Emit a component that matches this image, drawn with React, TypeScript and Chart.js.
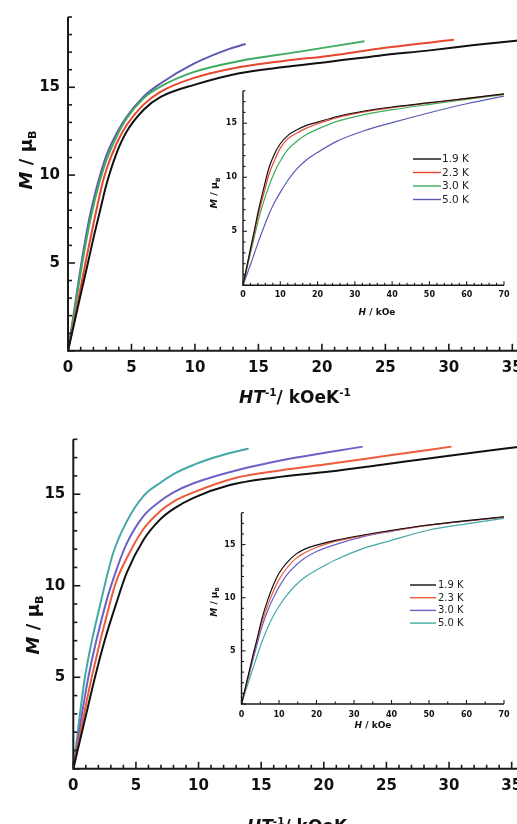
import React, { useEffect, useRef } from 'react';
import { Chart, registerables } from 'chart.js';
Chart.register(...registerables);

const FONT = '"DejaVu Sans", "Liberation Sans", Arial, sans-serif';

// ---------------- data ----------------
const TEMPS = ['1.9 K', '2.3 K', '3.0 K', '5.0 K'];
const TOP_COLORS = ['#111111', '#e8462e', '#3fab5e', '#5b5bb5'];
const BOT_COLORS = ['#111111', '#ee5a3c', '#6c62c6', '#44a9a6'];

// Top main panel: M vs H/T
const T19_X = [0, 0.5, 1, 1.6, 2, 2.5, 3, 3.8, 4.6, 6, 7.3, 10, 13.5, 17, 20.6, 24.5, 28.5, 32, 35.5];
const T19_M = [0, 1.6, 3.2, 5.1, 6.4, 7.9, 9.4, 11.2, 12.45, 13.75, 14.45, 15.15, 15.8, 16.15, 16.45, 16.8, 17.1, 17.4, 17.66];
const T23_X = [0, 0.5, 1, 1.4, 2, 2.7, 3.04, 3.83, 4.62, 5.93, 7.25, 9.88, 13.55, 17, 20.65, 25, 30.4];
const T23_M = [0, 1.75, 3.6, 5.1, 7.2, 9.5, 10.35, 11.8, 12.85, 14.0, 14.73, 15.52, 16.15, 16.5, 16.8, 17.25, 17.7];
const T30_X = [0, 0.5, 1.15, 1.8, 2.5, 3.04, 3.83, 4.62, 5.93, 7.25, 9.88, 13.55, 18, 23.35];
const T30_M = [0, 2.2, 5.1, 7.6, 9.65, 10.88, 12.2, 13.23, 14.36, 15.02, 15.86, 16.5, 17.0, 17.62];
const T50_X = [0, 0.5, 1.08, 1.7, 2.39, 3.04, 3.83, 4.62, 5.93, 7.25, 9.88, 12.77, 14.0];
const T50_M = [0, 2.35, 5.1, 7.6, 9.65, 11.16, 12.38, 13.32, 14.45, 15.2, 16.33, 17.2, 17.46];

// Bottom main panel: M vs H/T
const B19_X = [0, 1, 1.73, 2.5, 3.46, 4.26, 5.6, 6.9, 8, 9.6, 12.5, 16, 20.5, 24.5, 28.5, 32, 35.5];
const B19_M = [0, 2.9, 5.0, 7.0, 9.1, 10.7, 12.5, 13.6, 14.2, 14.8, 15.5, 15.9, 16.24, 16.6, 16.97, 17.28, 17.58];
const B23_X = [0, 1.47, 2.98, 3.46, 4.26, 5.6, 6.9, 8, 9.6, 13, 16.5, 20.5, 25, 30.2];
const B23_M = [0, 5.0, 9.2, 10.3, 11.5, 13.1, 14.05, 14.6, 15.1, 15.9, 16.3, 16.66, 17.1, 17.6];
const B30_X = [0, 1.2, 2.66, 3.46, 4.26, 5.6, 6.9, 8, 9.6, 13, 17.8, 23.1];
const B30_M = [0, 5.0, 9.2, 10.9, 12.3, 13.8, 14.6, 15.1, 15.6, 16.3, 17.0, 17.6];
const B50_X = [0, 0.93, 2.26, 3.19, 4.26, 5.6, 6.9, 8, 9.6, 11, 12.5, 14.0];
const B50_M = [0, 5.0, 9.3, 11.8, 13.5, 14.9, 15.6, 16.1, 16.6, 16.95, 17.25, 17.5];

// Insets: M vs H (kOe)
const INSET_H = [0, 1, 2, 3, 4, 5.5, 7, 8.5, 10, 12, 14.5, 17, 20, 25, 32.5, 40, 50, 60, 70];
const TI19 = [0, 1.7, 3.4, 5.0, 6.7, 8.9, 10.9, 12.2, 13.1, 13.85, 14.4, 14.8, 15.1, 15.6, 16.13, 16.5, 16.9, 17.3, 17.72];
const TI23 = [0, 1.6, 3.2, 4.8, 6.4, 8.4, 10.3, 11.6, 12.7, 13.55, 14.1, 14.55, 14.95, 15.5, 16.05, 16.45, 16.87, 17.28, 17.7];
const TI30 = [0, 1.45, 2.95, 4.4, 5.9, 7.7, 9.2, 10.5, 11.5, 12.55, 13.35, 13.95, 14.45, 15.15, 15.8, 16.25, 16.74, 17.2, 17.65];
const TI50 = [0, 0.95, 1.9, 2.9, 3.9, 5.3, 6.6, 7.7, 8.6, 9.7, 10.8, 11.6, 12.3, 13.3, 14.3, 15.05, 15.97, 16.8, 17.5];
const BI19 = [0, 1.5, 3.0, 4.5, 5.9, 8.1, 9.8, 11.2, 12.3, 13.25, 14.1, 14.6, 14.95, 15.4, 15.9, 16.35, 16.84, 17.25, 17.62];
const BI23 = [0, 1.45, 2.9, 4.4, 5.8, 7.7, 9.3, 10.6, 11.7, 12.75, 13.7, 14.25, 14.75, 15.3, 15.85, 16.3, 16.8, 17.22, 17.6];
const BI30 = [0, 1.35, 2.7, 4.1, 5.4, 7.3, 8.8, 10.0, 11.0, 12.1, 13.05, 13.75, 14.35, 15.0, 15.75, 16.25, 16.85, 17.2, 17.58];
const BI50 = [0, 1.1, 2.2, 3.3, 4.35, 5.9, 7.2, 8.3, 9.2, 10.2, 11.2, 11.95, 12.6, 13.55, 14.64, 15.4, 16.37, 16.95, 17.47];

// axis title pieces
const MAIN_X_TITLE_TOP = [{ t: 'HT', i: true }, { t: '-1', sup: true }, { t: '/ kOeK' }, { t: '-1', sup: true }];
const MAIN_X_TITLE_BOT = [{ t: 'HT', i: true }, { t: '-1', sup: true }, { t: '/ kOeK' }];
const M_TITLE = [{ t: 'M', i: true }, { t: ' / \u03bc' }, { t: 'B', sub: true }];
const INSET_X_TITLE = [{ t: 'H', i: true }, { t: ' / kOe' }];

type Part = { t: string; i?: boolean; sup?: boolean; sub?: boolean };

function fontOf(p: Part, size: number) {
  const s = p.sup || p.sub ? size * 0.62 : size;
  return `${p.i ? 'italic ' : ''}bold ${s}px ${FONT}`;
}

function drawRich(ctx: CanvasRenderingContext2D, parts: Part[], cx: number, cy: number, size: number, rotate: boolean) {
  ctx.save();
  ctx.translate(cx, cy);
  if (rotate) ctx.rotate(-Math.PI / 2);
  let total = 0;
  const widths = parts.map((p) => {
    ctx.font = fontOf(p, size);
    const w = ctx.measureText(p.t).width;
    total += w;
    return w;
  });
  let x = -total / 2;
  const base = size * 0.365; // put cap-centre at 0
  ctx.fillStyle = '#111';
  ctx.textBaseline = 'alphabetic';
  ctx.textAlign = 'left';
  parts.forEach((p, k) => {
    ctx.font = fontOf(p, size);
    let y = base;
    if (p.sup) y -= size * 0.42;
    if (p.sub) y += size * 0.22;
    ctx.fillText(p.t, x, y);
    x += widths[k];
  });
  ctx.restore();
}

function decoPlugin(spec: any) {
  return {
    id: 'deco',
    afterDraw(chart: any) {
      const { ctx, chartArea: a, scales } = chart;
      const xs = scales.x;
      const ys = scales.y;
      ctx.save();
      ctx.strokeStyle = '#1a1a1a';
      ctx.lineWidth = spec.axisWidth;
      ctx.beginPath();
      ctx.moveTo(a.left, a.top);
      ctx.lineTo(a.left, a.bottom);
      ctx.lineTo(a.right, a.bottom);
      ctx.stroke();
      ctx.lineWidth = spec.tickWidth;
      const isMajor = (v: number, m: number) => Math.abs(v / m - Math.round(v / m)) < 1e-6;
      for (let k = 0; ; k++) {
        const v = xs.min + k * spec.xMinor;
        if (v > xs.max + 1e-9) break;
        const px = xs.getPixelForValue(v);
        const len = isMajor(v, spec.xMajor) ? spec.majorLen : spec.minorLen;
        ctx.beginPath();
        ctx.moveTo(px, a.bottom);
        ctx.lineTo(px, a.bottom - len);
        ctx.stroke();
      }
      for (let k = 0; ; k++) {
        const v = ys.min + k * spec.yMinor;
        if (v > ys.max + 1e-9) break;
        const py = ys.getPixelForValue(v);
        const len = isMajor(v, 5) ? spec.majorLen : spec.minorLen;
        ctx.beginPath();
        ctx.moveTo(a.left, py);
        ctx.lineTo(a.left + len, py);
        ctx.stroke();
      }
      // legend
      if (spec.legend) {
        const L = spec.legend;
        chart.data.datasets.forEach((ds: any, k: number) => {
          const y = L.y0 + k * L.dy;
          ctx.strokeStyle = ds.borderColor;
          ctx.lineWidth = 1.4;
          ctx.beginPath();
          ctx.moveTo(L.x1, y);
          ctx.lineTo(L.x2, y);
          ctx.stroke();
          ctx.fillStyle = '#222';
          ctx.font = `${L.size}px ${FONT}`;
          ctx.textBaseline = 'middle';
          ctx.textAlign = 'left';
          ctx.fillText(ds.label, L.tx, y + 0.5);
        });
      }
      drawRich(ctx, spec.xTitle.parts, spec.xTitle.x, spec.xTitle.y, spec.xTitle.size, false);
      drawRich(ctx, spec.yTitle.parts, spec.yTitle.x, spec.yTitle.y, spec.yTitle.size, true);
      ctx.restore();
    },
  };
}

function makeConfig(spec: any) {
  return {
    type: 'line',
    data: {
      datasets: spec.series.map((s: any) => ({
        label: s.label,
        data: s.x.map((x: number, k: number) => ({ x, y: s.y[k] })),
        borderColor: s.color,
        borderWidth: spec.lineWidth,
        pointRadius: 0,
        fill: false,
        cubicInterpolationMode: 'monotone',
      })),
    },
    options: {
      animation: false,
      responsive: false,
      events: [],
      layout: { padding: { top: spec.padTop, right: spec.padRight, left: 0, bottom: 0 } },
      plugins: { legend: { display: false }, tooltip: { enabled: false }, title: { display: false } },
      scales: {
        x: {
          type: 'linear',
          min: spec.xMin,
          max: spec.xMax,
          grid: { display: false, drawTicks: false },
          border: { display: false },
          ticks: {
            stepSize: spec.xMajor,
            includeBounds: false,
            autoSkip: false,
            maxRotation: 0,
            padding: spec.xPad,
            color: '#111',
            font: { family: FONT, size: spec.tickSize, weight: 'bold' },
          },
          afterFit: (s: any) => {
            s.height = spec.xHeight;
          },
        },
        y: {
          type: 'linear',
          min: 0,
          max: spec.yMax,
          grid: { display: false, drawTicks: false },
          border: { display: false },
          ticks: {
            stepSize: 5,
            includeBounds: false,
            padding: spec.yPad,
            color: '#111',
            font: { family: FONT, size: spec.tickSize, weight: 'bold' },
            callback: (v: number) => (v === 0 ? '' : String(v)),
          },
          afterFit: (s: any) => {
            s.width = spec.yWidth;
          },
        },
      },
    },
    plugins: [decoPlugin(spec)],
  };
}

function ChartCanvas({ spec }: { spec: any }) {
  const ref = useRef<HTMLCanvasElement | null>(null);
  useEffect(() => {
    if (!ref.current) return;
    const chart = new Chart(ref.current, makeConfig(spec) as any);
    return () => chart.destroy();
  }, [spec]);
  return (
    <canvas
      ref={ref}
      width={spec.w}
      height={spec.h}
      style={{ position: 'absolute', left: spec.left, top: spec.top, width: spec.w, height: spec.h }}
    />
  );
}

const series = (xs: number[][], ys: number[][], colors: string[]) =>
  TEMPS.map((label, k) => ({ label, x: xs[k], y: ys[k], color: colors[k] }));

const TOP_MAIN = {
  left: 0, top: 0, w: 560, h: 410,
  padTop: 13.3, padRight: 35, yWidth: 68, xHeight: 59.2,
  xMin: 0, xMax: 36, xMajor: 5, xMinor: 1, yMax: 19, yMinor: 1,
  tickSize: 15, xPad: 8, yPad: 8, lineWidth: 2,
  axisWidth: 2, tickWidth: 1.6, majorLen: 7, minorLen: 4,
  series: series([T19_X, T23_X, T30_X, T50_X], [T19_M, T23_M, T30_M, T50_M], TOP_COLORS),
  xTitle: { parts: MAIN_X_TITLE_TOP, x: 295, y: 397, size: 17 },
  yTitle: { parts: M_TITLE, x: 25, y: 160, size: 18 },
};

const BOT_MAIN = {
  left: 0, top: 410, w: 560, h: 430,
  padTop: 29.3, padRight: 35.8, yWidth: 73.3, xHeight: 71.2,
  xMin: 0, xMax: 36, xMajor: 5, xMinor: 1, yMax: 18, yMinor: 1,
  tickSize: 15, xPad: 8, yPad: 8, lineWidth: 2,
  axisWidth: 2, tickWidth: 1.6, majorLen: 7, minorLen: 4,
  series: series([B19_X, B23_X, B30_X, B50_X], [B19_M, B23_M, B30_M, B50_M], BOT_COLORS),
  xTitle: { parts: MAIN_X_TITLE_BOT, x: 297, y: 416, size: 17 },
  yTitle: { parts: M_TITLE, x: 32, y: 215, size: 18 },
};

const H5 = [INSET_H, INSET_H, INSET_H, INSET_H];

const TOP_INSET = {
  left: 195, top: 80, w: 322, h: 250,
  padTop: 9, padRight: 13, yWidth: 48, xHeight: 44.7,
  xMin: 0, xMax: 70, xMajor: 10, xMinor: 2, yMax: 18, yMinor: 1,
  tickSize: 8, xPad: 5, yPad: 6, lineWidth: 1.2,
  axisWidth: 1.4, tickWidth: 1.1, majorLen: 4, minorLen: 2.5,
  series: series(H5, [TI19, TI23, TI30, TI50], TOP_COLORS),
  legend: { x1: 218, x2: 246, tx: 247, y0: 79, dy: 13.5, size: 10.5 },
  xTitle: { parts: INSET_X_TITLE, x: 182, y: 232, size: 9 },
  yTitle: { parts: M_TITLE, x: 19, y: 113, size: 9.5 },
};

const BOT_INSET = {
  left: 195, top: 500, w: 322, h: 250,
  padTop: 12.7, padRight: 13, yWidth: 46.5, xHeight: 46,
  xMin: 0, xMax: 70, xMajor: 10, xMinor: 5, yMax: 18, yMinor: 1,
  tickSize: 8, xPad: 6, yPad: 6, lineWidth: 1.2,
  axisWidth: 1.4, tickWidth: 1.1, majorLen: 4, minorLen: 2.5,
  series: series(H5, [BI19, BI23, BI30, BI50], BOT_COLORS),
  legend: { x1: 215, x2: 241, tx: 243, y0: 85, dy: 12.7, size: 10 },
  xTitle: { parts: INSET_X_TITLE, x: 178, y: 225, size: 9 },
  yTitle: { parts: M_TITLE, x: 18.5, y: 102, size: 9 },
};

export default function App() {
  return (
    <div
      style={{
        position: 'absolute', left: 0, top: 0, width: 517, height: 824,
        overflow: 'hidden', background: '#ffffff',
      }}
    >
      <ChartCanvas spec={TOP_MAIN} />
      <ChartCanvas spec={BOT_MAIN} />
      <ChartCanvas spec={TOP_INSET} />
      <ChartCanvas spec={BOT_INSET} />
    </div>
  );
}
